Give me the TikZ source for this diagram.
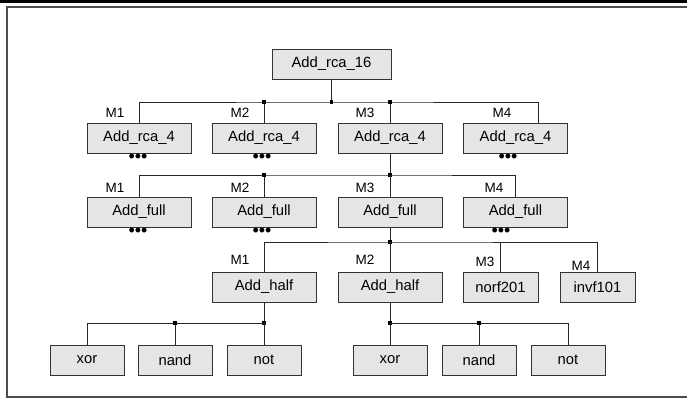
\documentclass[tikz,border=0pt]{standalone}
\usepackage{fontspec}
\setmainfont{Liberation Sans}
\usepackage{xcolor}
\usepackage{tikz}
\usetikzlibrary{positioning,calc}
\tikzset{
  hbox/.style={draw=black!80, line width=0.9pt, fill=gray!20, minimum height=30pt, inner sep=2pt, font=\fontsize{14.8}{17}\selectfont},
  hwide/.style={hbox, minimum width=104pt},
  hroot/.style={hbox, minimum width=119pt},
  hleaf/.style={hbox, minimum width=74pt},
  hcell/.style={hbox, minimum width=75pt},
  mlabel/.style={anchor=base, inner sep=0pt, font=\fontsize{13.5}{15}\selectfont},
  hmore/.style={inner sep=0pt, font=\fontsize{18}{18}\selectfont},
  wire/.style={draw=black!85, line width=0.8pt},
  junc/.style={fill=black, minimum size=3.5pt, inner sep=0pt, outer sep=0pt},
  hframe/.style={draw=black!70, line width=1.2pt}
}

\begin{document}
\begin{tikzpicture}[x=1pt,y=-1pt]
\useasboundingbox (0,0) rectangle (687,398);
\draw[line width=3pt] (0,1.5) -- (687,1.5);
\draw[hframe] (687,7) -- (7,7) -- (7,397) -- (687,397);

\node[hroot] (top) at (331.5,64) {Add\_rca\_16};

\node[hwide] (a1) at (139,138) {Add\_rca\_4};
\node[hwide] (a2) at (264,138) {Add\_rca\_4};
\node[hwide] (a3) at (390,138) {Add\_rca\_4};
\node[hwide] (a4) at (515.5,138) {Add\_rca\_4};

\node[hwide] (f1) at (139,212) {Add\_full};
\node[hwide] (f2) at (264,212) {Add\_full};
\node[hwide] (f3) at (390,212) {Add\_full};
\node[hwide] (f4) at (515.5,212) {Add\_full};

\node[hwide] (h1) at (264,287) {Add\_half};
\node[hwide] (h2) at (390,287) {Add\_half};
\node[hcell] (nor) at (500.5,287) {norf201};
\node[hcell] (inv) at (597.5,287) {invf101};

\node[hleaf] (x1) at (87,360) {xor};
\node[hleaf] (d1) at (175,360) {nand};
\node[hleaf] (n1) at (264,360) {not};
\node[hleaf] (x2) at (390,360) {xor};
\node[hleaf] (d2) at (479,360) {nand};
\node[hleaf] (n2) at (568,360) {not};

\node[mlabel] (la1) at (115,118) {M1};
\node[mlabel] (la2) at (240,118) {M2};
\node[mlabel] (la3) at (365,118) {M3};
\node[mlabel] (la4) at (502,118) {M4};
\node[mlabel] (lf1) at (115,192) {M1};
\node[mlabel] (lf2) at (240,192) {M2};
\node[mlabel] (lf3) at (365,192) {M3};
\node[mlabel] (lf4) at (494,192) {M4};
\node[mlabel] (lh1) at (240,264) {M1};
\node[mlabel] (lh2) at (365,264) {M2};
\node[mlabel] (lh3) at (485,266) {M3};
\node[mlabel] (lh4) at (581,270) {M4};

\node[hmore] (ma1) at (138,158) {•••};
\node[hmore] (ma2) at (262,158) {•••};
\node[hmore] (ma4) at (508,158) {•••};
\node[hmore] (mf1) at (138,232) {•••};
\node[hmore] (mf2) at (262,232) {•••};
\node[hmore] (mf4) at (501,232) {•••};

\coordinate (j1) at (331.5,102);
\coordinate (a4in) at ([xshift=22.5pt]a4.north);
\coordinate (j2) at (390,175);
\coordinate (j3) at (390,242);
\coordinate (j4) at (264,323);
\coordinate (j5) at (390,323);

\draw[wire] (top.south) -- (j1);
\draw[wire] (a1.north) |- (j1) -| (a4in);
\draw[wire] (a2.north) -- (a2.north |- j1) node[junc] {};
\draw[wire] (a3.north) -- (a3.north |- j1) node[junc] {};
\node[junc] at (j1) {};

\draw[wire] (a3.south) -- (j2) node[junc] {};
\draw[wire] (f1.north) |- (j2) -| (f4.north);
\draw[wire] (f2.north) -- (f2.north |- j2) node[junc] {};
\draw[wire] (f3.north) -- (j2);

\draw[wire] (f3.south) -- (j3) node[junc] {};
\draw[wire] (h1.north) |- (j3) -| (inv.north);
\draw[wire] (h2.north) -- (j3);
\draw[wire] (nor.north) -- (nor.north |- j3);

\draw[wire] (h1.south) -- (j4) node[junc] {};
\draw[wire] (x1.north) |- (j4) -- (n1.north);
\draw[wire] (d1.north) -- (d1.north |- j4) node[junc] {};

\draw[wire] (h2.south) -- (j5) node[junc] {};
\draw[wire] (x2.north) -- (j5) -| (n2.north);
\draw[wire] (d2.north) -- (d2.north |- j5) node[junc] {};
\end{tikzpicture}
\end{document}
